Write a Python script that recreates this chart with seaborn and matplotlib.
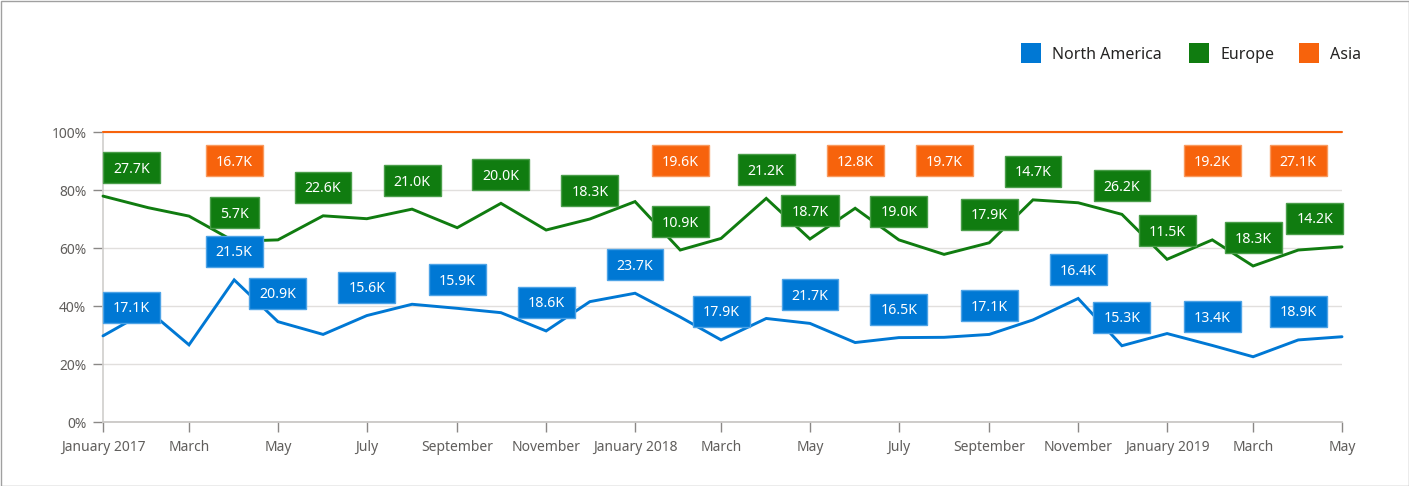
import numpy as np
import pandas as pd
import matplotlib
matplotlib.use("Agg")
import matplotlib.pyplot as plt
import matplotlib.dates as mdates
from matplotlib.patches import Rectangle
from matplotlib.transforms import IdentityTransform
import seaborn as sns

# ---------------- data ----------------
months = pd.date_range("2017-01-01", "2019-05-01", freq="MS")
series = ["North America", "Europe", "Asia"]
colors = ["#0078D4", "#107C10", "#F7630C"]

# share of each region in the monthly total (percent)
na_share = [29.7, 38.5, 26.6, 49.0, 34.6, 30.2, 36.7, 40.6, 39.2, 37.7, 31.4, 41.5,
            44.4, 36.2, 28.3, 35.7, 34.0, 27.4, 29.1, 29.2, 30.2, 35.2, 42.6, 26.3,
            30.5, 26.4, 22.5, 28.3, 29.4]
eu_share = [48.2, 35.4, 44.4, 13.3, 28.2, 40.9, 33.4, 32.8, 27.8, 37.7, 34.8, 28.5,
            31.6, 23.1, 35.0, 41.4, 29.1, 46.3, 33.7, 28.6, 31.6, 41.4, 33.0, 45.3,
            25.6, 36.4, 31.3, 31.0, 31.0]
asia_share = [22.1, 26.1, 29.0, 37.7, 37.2, 28.9, 29.9, 26.6, 33.0, 24.6, 33.8, 30.0,
              24.0, 40.7, 36.7, 22.9, 36.9, 26.3, 37.2, 42.2, 38.2, 23.4, 24.4, 28.4,
              43.9, 37.2, 46.2, 40.7, 39.6]

nan = np.nan
# data labels shown on the chart (thousands), nan where no label is shown
na_labels = [17.1, nan, nan, 21.5, 20.9, nan, 15.6, nan, 15.9, nan, 18.6, nan,
             23.7, nan, 17.9, nan, 21.7, nan, 16.5, nan, 17.1, nan, 16.4, 15.3,
             nan, 13.4, nan, 18.9, nan]
eu_labels = [27.7, nan, nan, 5.7, nan, 22.6, nan, 21.0, nan, 20.0, nan, 18.3,
             nan, 10.9, nan, 21.2, 18.7, nan, 19.0, nan, 17.9, 14.7, nan, 26.2,
             11.5, nan, 18.3, nan, 14.2]
asia_labels = [nan, nan, nan, 16.7, nan, nan, nan, nan, nan, nan, nan, nan,
               nan, 19.6, nan, nan, nan, 12.8, nan, 19.7, nan, nan, nan, nan,
               nan, 19.2, nan, 27.1, nan]

# ---------------- figure ----------------
sns.set_theme(style="white")
plt.rcParams["font.family"] = ["Noto Sans", "DejaVu Sans"]

W, H = 1409, 486
fig = plt.figure(figsize=(W / 100, H / 100), dpi=100)
fig.patch.set_facecolor("white")
ax = fig.add_axes([103 / W, (H - 422) / H, (1342 - 103) / W, (422 - 132) / H])

shares = np.array([na_share, eu_share, asia_share], dtype=float)
pct = shares / shares.sum(axis=0) * 100.0
cum = np.cumsum(pct, axis=0)

df = pd.DataFrame({
    "month": np.tile(months, len(series)),
    "value": cum.ravel(),
    "series": np.repeat(series, len(months)),
})
sns.lineplot(data=df, x="month", y="value", hue="series", hue_order=series,
             palette=dict(zip(series, colors)), ax=ax, legend=False,
             linewidth=2.1, zorder=3)
for ln in ax.lines:
    ln.set_clip_on(False)
    ln.set_solid_joinstyle("miter")
ax.lines[2].set_linewidth(1.5)

ax.set_ylim(0, 100)
ax.set_xlim(months[0], months[-1])
ax.set_yticks(range(0, 101, 20))
ax.set_yticklabels([f"{v}%" for v in range(0, 101, 20)])
tick_months = months[::2]
ax.set_xticks(tick_months)
ax.set_xticklabels([m.strftime("%B %Y") if m.month == 1 else m.strftime("%B") for m in tick_months])
ax.set_xlabel("")
ax.set_ylabel("")

ax.yaxis.grid(True, color="#e1dfdd", linewidth=1)
ax.xaxis.grid(False)
ax.set_axisbelow(True)
for s in ["top", "right"]:
    ax.spines[s].set_visible(False)
ax.spines["left"].set_color("#d2d0ce")
ax.spines["bottom"].set_color("#c8c6c4")
ax.tick_params(axis="x", direction="out", length=7, width=1, color="#8a8886",
               labelcolor="#605e5c", labelsize=10, pad=6, bottom=True)
ax.tick_params(axis="y", direction="out", length=7, width=1, color="#8a8886",
               labelcolor="#605e5c", labelsize=10, pad=5, left=True)

# ---------------- data labels ----------------
fig.canvas.draw()
renderer = fig.canvas.get_renderer()
axbb = ax.get_window_extent(renderer)
fs = 10.2
fs_px = fs / 72 * 100
cap = 0.714 * fs_px
idt = IdentityTransform()
xnum = mdates.date2num(months.to_pydatetime())
edge_cols = ["#4da3e6", "#4a9e4a", "#f99a5e"]
for s, labels in enumerate([na_labels, eu_labels, asia_labels]):
    for i, v in enumerate(labels):
        if np.isnan(v):
            continue
        px, py = ax.transData.transform((xnum[i], cum[s][i]))
        t = fig.text(0, 0, f"{v:.1f}K", transform=idt, fontsize=fs, color="white",
                     ha="center", va="baseline", zorder=6)
        tw = t.get_window_extent(renderer).width
        bw, bh = tw + 20, 31
        cx = min(max(px, axbb.x0 + bw / 2), axbb.x1 + 1 - bw / 2)
        cy = py + 28.5 if s < 2 else py - 28.5
        rect = Rectangle((cx - bw / 2, cy - bh / 2), bw, bh, transform=idt,
                         facecolor=colors[s], edgecolor=edge_cols[s], linewidth=1, zorder=5)
        fig.add_artist(rect)
        t.set_position((cx, cy - cap / 2))

# ---------------- legend ----------------
leg_items = [(1021, "North America"), (1189, "Europe"), (1299, "Asia")]
for (x0, name), c in zip(leg_items, colors):
    fig.add_artist(Rectangle((x0, H - 63), 20, 20, transform=idt, facecolor=c,
                             edgecolor="none", zorder=5))
    fig.text(x0 + 31, H - 53, name, transform=idt, fontsize=11.5, color="#252423",
             ha="left", va="center_baseline")

# border
fig.add_artist(Rectangle((0.5, 0.5), W - 1, H - 1, transform=idt, fill=False,
                         edgecolor="#a0a0a0", linewidth=1, zorder=10))

fig.savefig("out.png", dpi=100)
